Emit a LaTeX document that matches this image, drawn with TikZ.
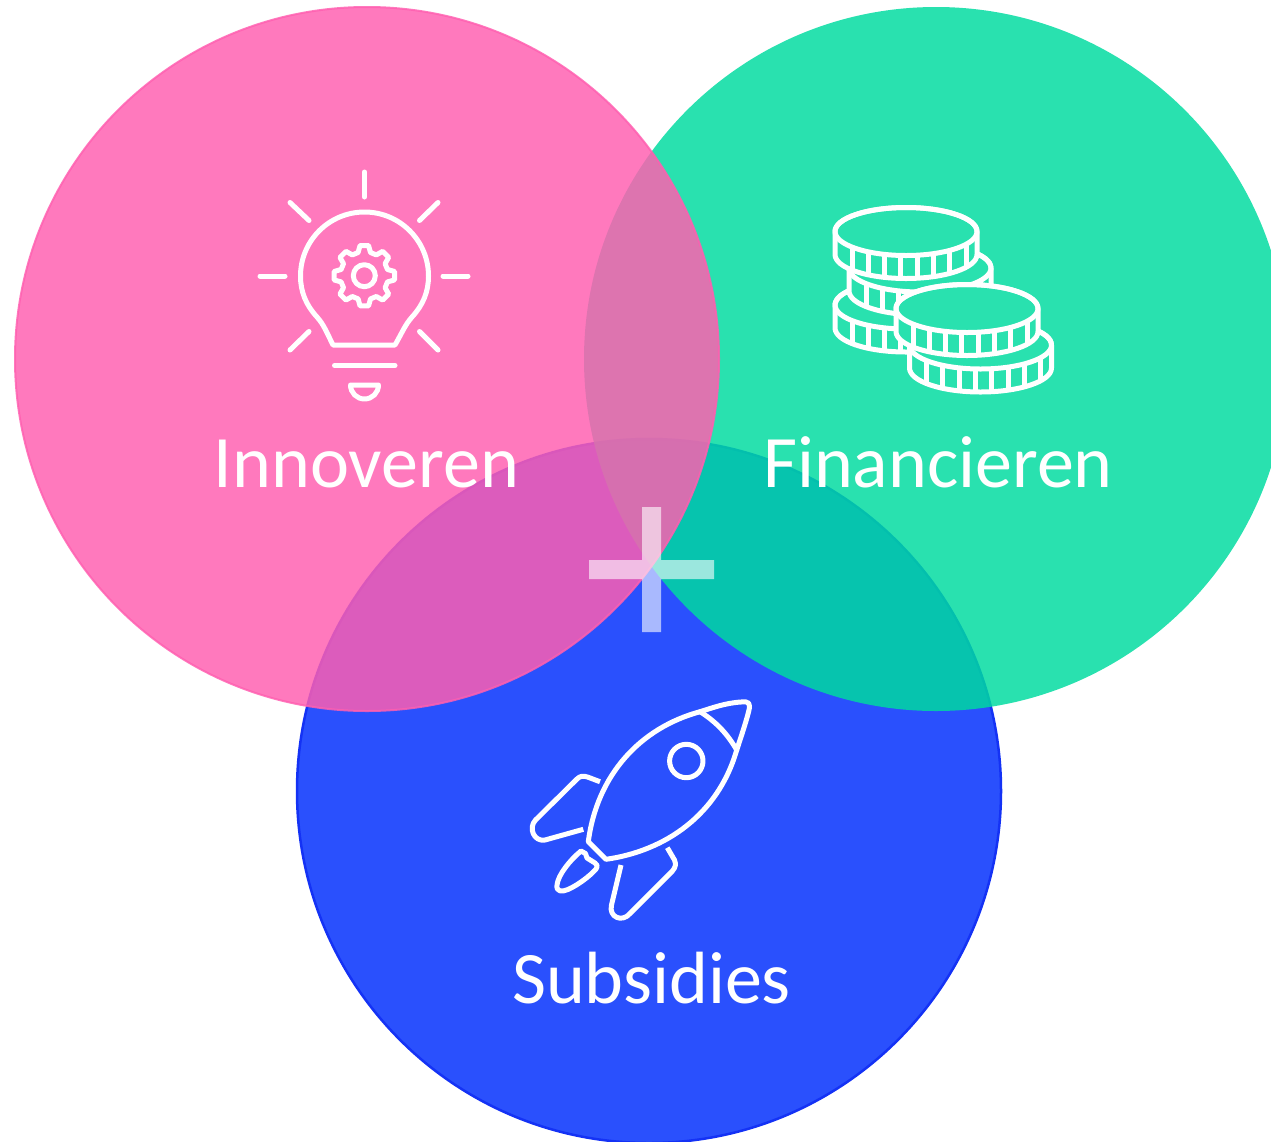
\documentclass[tikz,border=0pt]{standalone}
\usepackage{fontspec}
\setmainfont{Carlito}
\definecolor{pinkc}{RGB}{255,95,176}
\definecolor{greenc}{RGB}{0,219,160}
\definecolor{bluec}{RGB}{42,80,253}
\definecolor{blueline}{RGB}{20,50,245}
\definecolor{coinbg}{RGB}{41,225,175}
\begin{document}
\begin{tikzpicture}[
    x = 1pt, y = -1pt,
    circ/.style = {circle, minimum size=704pt, inner sep=0pt, outer sep=0pt},
   label/.style = {text=white, anchor=base, inner sep=0pt,
                   font=\fontsize{74}{80}\selectfont},
    icon/.style = {draw=white, line width=5pt, line cap=round, line join=round},
    coin/.pic = {
        \draw [icon, fill=coinbg] (-71,0) -- (-71,23)
            arc [start angle=180, end angle=0, x radius=71, y radius=24]
            -- (71,0) arc [start angle=0, end angle=-180, x radius=71, y radius=24];
        \draw [icon] (0,0) ellipse [x radius=71, y radius=24];
        \foreach \dx in {-54,-37.7,-21.4,-5.1,11.2,27.5,43.8,60} {
            \pgfmathsetmacro{\dy}{24*sqrt(1-(\dx/71)^2)}
            \draw [icon, line cap=butt] (\dx,\dy) -- (\dx,\dy+23);
        }
    }
                    ]
  \clip (0,0) rectangle (1271,1141);
  % circles
  \node (subs) [circ, fill=bluec, draw=blueline, line width=2.5pt] at (649,791) {};
  \node (fina) [circ, fill=greenc, opacity=.84] at (936,359) {};
  \node (inno) [circ, fill=pinkc, draw=pinkc, line width=2pt, opacity=.84] at (367,359) {};
  % plus
  \fill [white, opacity=.6] (642,507) -- (661,507) -- (661,560) -- (714,560)
      -- (714,579) -- (661,579) -- (661,632) -- (642,632) -- (642,579)
      -- (589,579) -- (589,560) -- (642,560) -- cycle;
  % labels
  \node (innotext) [label] at (366.5,487) {Innoveren};
  \node (finatext) [label] at (938,487) {Financieren};
  \node (substext) [label] at (651.5,1003) {Subsidies};
  % bulb
  \draw [icon] (364.5,172) -- (364.5,197);
  \draw [icon] (260,276) -- (285,276);
  \draw [icon] (443,276) -- (468,276);
  \draw [icon] (290,202.5) -- (309,220.5);
  \draw [icon] (438,202.5) -- (419.5,220.5);
  \draw [icon] (309,331.5) -- (290,350);
  \draw [icon] (419.5,331.5) -- (438,350);
  \draw [icon] (333,345) -- (395,345) .. controls (403,331) and (405,325) .. (412,317)
      .. controls (423,305) and (428.5,292) .. (428.5,276)
      arc [start angle=0, end angle=-180, radius=64]
      .. controls (300.5,292) and (306,305) .. (317,317)
      .. controls (324,325) and (326,331) .. (333,345) -- cycle;
  \draw [icon] (334.5,365.5) -- (395,365.5);
  \draw [icon] (350.5,385) -- (378.5,385) arc [start angle=0, end angle=180, radius=14] -- cycle;
  \begin{scope}[shift={(364.3,275.7)}]
    \draw [icon] (0,0) circle (11);
    \draw [icon] (-8:30.5) \foreach \a in {0,45,...,315} {
        -- (\a-8:30.5) -- (\a+8:30.5) -- (\a+15:24) -- (\a+30:24) -- (\a+37:30.5) } -- cycle;
  \end{scope}
  % coins
  \pic (coinc) at (906,305) {coin};
  \pic (coinb) at (920,268) {coin};
  \pic (coina) at (906,231.5) {coin};
  \pic (coine) at (980.5,345) {coin};
  \pic (coind) at (967,308.5) {coin};
  % rocket
  \draw [icon] (588.3,841.7) -- (606,859.3)
      .. controls (665,851) and (718,815) .. (736.7,750)
      .. controls (741,737) and (746,722) .. (748.5,712)
      .. controls (751,703) and (749,701) .. (741,702)
      .. controls (725,703) and (712,708) .. (700,711.7)
      .. controls (640,728) and (597,775) .. cycle;
  \draw [icon] (700,711.7) .. controls (715,721) and (727,733) .. (736.7,750);
  \draw [icon] (686.3,761) circle (16.7);
  \draw [icon, line cap=butt] (600,781.7) -- (587.5,777) .. controls (583,775.5) and (580,776) .. (577,779)
      -- (535.5,820) .. controls (528,828) and (534,842) .. (545,840) -- (583.3,829.3);
  \draw [icon, line cap=butt] (621,865) -- (611.5,905) .. controls (608.5,917) and (622,923) .. (630,913.5)
      -- (672,871.5) .. controls (676,867) and (676,864) .. (674.5,860) -- (667.3,847.7);
  \draw [icon] (581,851) .. controls (570,860) and (558,875) .. (557,885)
      .. controls (556,892) and (562,892) .. (568,889.5)
      .. controls (578,885) and (590,876) .. (596,869)
      .. controls (598,866) and (597,864) .. (595,863)
      -- (587,858) -- (585.5,853.5) -- cycle;
\end{tikzpicture}
\end{document}
